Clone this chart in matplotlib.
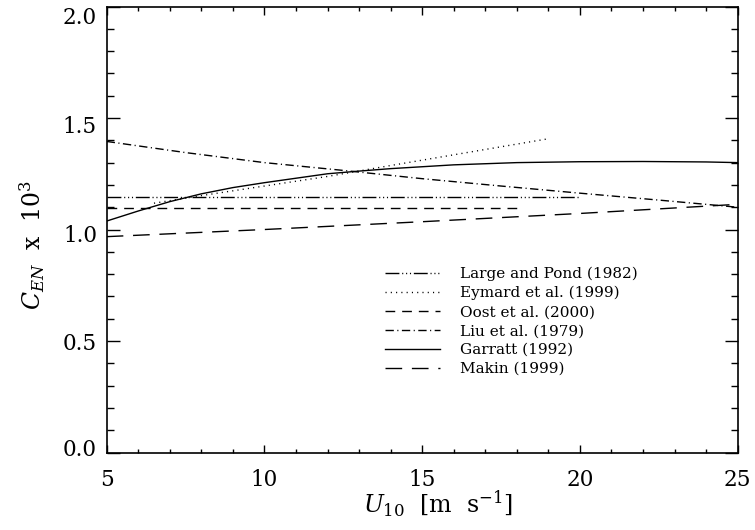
import numpy as np
import matplotlib
matplotlib.use('Agg')
import matplotlib.pyplot as plt
import matplotlib.transforms as mtransforms
from matplotlib.ticker import MultipleLocator

plt.rcParams['font.family'] = ['DejaVu Serif']
plt.rcParams['mathtext.fontset'] = 'dejavuserif'

# Curvas de C_EN (x 10^3) em funcao de U10
u_large = [5, 20]
c_large = [1.148, 1.148]

u_eymard = [6.5, 8, 10, 12, 14, 16, 18, 19]
c_eymard = [1.118, 1.152, 1.195, 1.238, 1.287, 1.335, 1.383, 1.407]

u_oost = [5, 18]
c_oost = [1.098, 1.098]

u_liu = [5, 7.5, 10, 12.5, 15, 17.5, 20, 22.5, 25]
c_liu = [1.395, 1.345, 1.300, 1.265, 1.228, 1.195, 1.163, 1.132, 1.100]

u_garratt = [5, 6, 7, 8, 9, 10, 11, 12, 13, 14, 16, 18, 20, 22, 24, 25]
c_garratt = [1.038, 1.083, 1.125, 1.160, 1.188, 1.210, 1.230, 1.250, 1.262,
             1.273, 1.290, 1.300, 1.304, 1.305, 1.303, 1.300]

u_makin = [5, 10, 15, 20, 25]
c_makin = [0.968, 1.000, 1.035, 1.072, 1.113]

fig = plt.figure(figsize=(7.55, 5.30), dpi=100)
ax = fig.add_axes([0.1413, 0.1462, 0.8357, 0.8415])

lw = 1.0
ax.plot(u_large, c_large, 'k', lw=lw, dashes=(10, 2, 0.8, 2, 0.8, 2, 0.8, 2),
        label='Large and Pond (1982)')
ax.plot(u_eymard, c_eymard, 'k', lw=lw, dashes=(0.8, 3.0),
        label='Eymard et al. (1999)')
ax.plot(u_oost, c_oost, 'k', lw=lw, dashes=(7, 5),
        label='Oost et al. (2000)')
ax.plot(u_liu, c_liu, 'k', lw=lw, dashes=(6, 2.5, 0.8, 2.5),
        label='Liu et al. (1979)')
ax.plot(u_garratt, c_garratt, 'k', lw=lw, label='Garratt (1992)')
ax.plot(u_makin, c_makin, 'k', lw=lw, dashes=(12, 7),
        label='Makin (1999)')

ax.set_xlim(5, 25)
ax.set_ylim(0.0, 2.0)
ax.xaxis.set_major_locator(MultipleLocator(5))
ax.xaxis.set_minor_locator(MultipleLocator(1))
ax.yaxis.set_major_locator(MultipleLocator(0.5))
ax.yaxis.set_minor_locator(MultipleLocator(0.1))
ax.yaxis.set_major_formatter(matplotlib.ticker.FormatStrFormatter('%.1f'))

for s in ax.spines.values():
    s.set_linewidth(1.2)
ax.tick_params(which='both', direction='in', top=True, right=True,
               width=1.0, labelsize=15.5)
ax.tick_params(axis='x', which='major', length=5.8, pad=12)
ax.tick_params(axis='x', which='minor', length=3)
ax.tick_params(axis='y', which='major', length=9.4, pad=7)
ax.tick_params(axis='y', which='minor', length=5)

ax.set_xlabel(r'$U_{10}$  [m  s$^{-1}$]', fontsize=17)
ax.set_ylabel(r'$C_{EN}$  x  10$^3$', fontsize=17)
ax.xaxis.set_label_coords(0.525, -0.082)
ax.yaxis.set_label_coords(-0.095, 0.465)

ax.legend(loc='upper left', bbox_to_anchor=(0.441, 0.4164), frameon=False,
          fontsize=11, handlelength=3.6, handletextpad=1.3, labelspacing=0.32,
          borderpad=0, borderaxespad=0)

# rotulos do eixo y deslocados como no original (2.0 abaixo, 0.0 acima)
fig.canvas.draw()
desloc = {0.0: 5, 0.5: 0, 1.0: -4, 1.5: -6, 2.0: -9}
for tick in ax.yaxis.get_major_ticks():
    v = round(tick.get_loc(), 1)
    if v in desloc:
        off = mtransforms.ScaledTranslation(0, desloc[v] / 100, fig.dpi_scale_trans)
        tick.label1.set_transform(tick.label1.get_transform() + off)

plt.savefig('out.png', dpi=100)
